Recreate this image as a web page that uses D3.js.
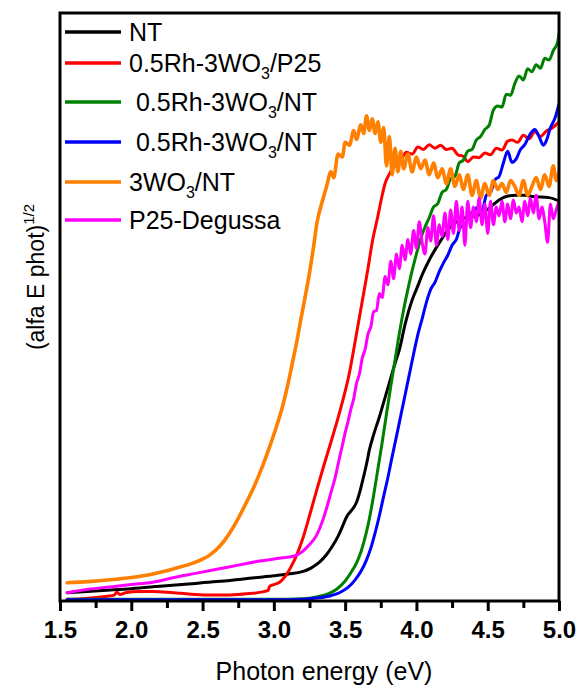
<!DOCTYPE html>
<html>
<head>
<meta charset="utf-8">
<script src="https://cdn.jsdelivr.net/npm/d3@7"></script>
<style>
    body { margin: 0; background: #fff; }
    svg { display: block; font-family: 'Liberation Sans', Arial, sans-serif; }
</style>
</head>
<body>
<div id="chart"></div>
<script>
// x axis ticks (eV)
const xTickValues = [1.5, 2.0, 2.5, 3.0, 3.5, 4.0, 4.5, 5.0];
const xMinorTickValues = [1.75, 2.25, 2.75, 3.25, 3.75, 4.25, 4.75];

// legend labels, split as [text, subscript, text]
const seriesNames = [
    ['NT'],
    ['0.5Rh-3WO', '3', '/P25'],
    [' 0.5Rh-3WO', '3', '/NT'],
    [' 0.5Rh-3WO', '3', '/NT'],
    ['3WO', '3', '/NT'],
    ['P25-Degussa']
];

// [photon energy (eV), (alfa E phot)^1/2 in arbitrary units]
const ntData = [
    [1.55, 1.4], [1.8, 1.8], [2.0, 2.1], [2.2, 2.5], [2.4, 2.9], [2.6, 3.3], [2.8, 3.8], [3.0, 4.3],
    [3.1, 4.6], [3.2, 5.0], [3.26, 5.6], [3.32, 6.6], [3.37, 7.9], [3.41, 9.3], [3.45, 11.0], [3.48, 12.6],
    [3.51, 14.3], [3.53, 15.0], [3.56, 15.9], [3.58, 16.8], [3.60, 18.3], [3.62, 20.2], [3.65, 23.3],
    [3.67, 25.7], [3.70, 28.3], [3.74, 31.3], [3.78, 34.6], [3.81, 37.1], [3.85, 40.4], [3.88, 42.7],
    [3.92, 47.0], [3.97, 51.2], [4.00, 53.0], [4.05, 56.0], [4.09, 58.0], [4.16, 60.9], [4.23, 63.4],
    [4.30, 64.8], [4.36, 65.3], [4.42, 65.5], [4.51, 66.8], [4.58, 68.2], [4.63, 68.8], [4.70, 69.0],
    [4.76, 69.0], [4.81, 68.8], [4.93, 68.6], [5.00, 68.0]
];

const rhP25Data = [
    [1.55, 0.3], [1.65, 0.4], [1.75, 0.6], [1.83, 0.8], [1.88, 1.0], [1.90, 1.5], [1.92, 1.1], [1.96, 1.4],
    [2.05, 1.6], [2.15, 1.6], [2.25, 1.5], [2.35, 1.3], [2.45, 1.1], [2.55, 1.0], [2.65, 1.0], [2.75, 1.1],
    [2.85, 1.3], [2.93, 1.6], [2.96, 1.8], [2.97, 2.5], [3.00, 2.8], [3.04, 3.2], [3.08, 4.2], [3.12, 5.8],
    [3.16, 7.8], [3.20, 10.4], [3.25, 14.5], [3.30, 18.8], [3.35, 23.0], [3.40, 27.0], [3.46, 32.0],
    [3.53, 38.8], [3.58, 45.5], [3.62, 51.0], [3.66, 56.5], [3.69, 61.0], [3.73, 65.5], [3.76, 69.0],
    [3.78, 71.0], [3.81, 72.6], [3.85, 74.2], [3.89, 75.0], [3.93, 76.3], [3.97, 76.0], [4.01, 77.2],
    [4.05, 76.8], [4.09, 77.6], [4.13, 77.0], [4.17, 77.5], [4.21, 76.8], [4.25, 77.0], [4.29, 75.9],
    [4.33, 75.6], [4.36, 74.7], [4.40, 75.5], [4.44, 75.4], [4.48, 76.2], [4.52, 75.9], [4.56, 77.0],
    [4.60, 76.7], [4.64, 78.2], [4.67, 78.4], [4.71, 78.0], [4.75, 79.2], [4.79, 78.6], [4.83, 79.8],
    [4.87, 79.0], [4.91, 79.9], [4.95, 80.4], [5.00, 81.5]
];

const rhNtData = [
    [1.55, 0.3], [2.0, 0.3], [2.5, 0.3], [3.0, 0.3], [3.2, 0.4], [3.3, 0.7], [3.38, 1.2], [3.44, 2.0],
    [3.50, 3.4], [3.54, 4.8], [3.58, 6.5], [3.61, 8.3], [3.64, 10.8], [3.67, 14.0], [3.70, 18.0],
    [3.73, 22.5], [3.76, 27.0], [3.79, 31.8], [3.82, 36.5], [3.85, 41.0], [3.88, 45.5], [3.91, 49.5],
    [3.94, 53.0], [3.97, 56.2], [4.00, 59.0], [4.03, 61.6], [4.06, 63.6], [4.09, 65.2], [4.12, 67.0],
    [4.15, 67.6], [4.18, 69.5], [4.21, 70.0], [4.24, 71.8], [4.27, 72.2], [4.30, 74.5], [4.33, 75.0],
    [4.36, 76.5], [4.39, 76.8], [4.42, 78.4], [4.45, 79.0], [4.48, 80.2], [4.51, 80.9], [4.54, 83.5],
    [4.57, 84.2], [4.60, 84.0], [4.63, 86.2], [4.66, 86.0], [4.69, 88.0], [4.72, 89.3], [4.75, 88.6],
    [4.78, 90.5], [4.81, 90.0], [4.84, 91.2], [4.87, 90.6], [4.90, 92.3], [4.93, 92.0], [4.96, 93.6],
    [4.99, 95.0], [5.00, 96.5]
];

const rhNt2Data = [
    [1.55, 0.2], [2.0, 0.2], [2.5, 0.2], [3.0, 0.2], [3.2, 0.3], [3.3, 0.5], [3.4, 0.9], [3.46, 1.4],
    [3.52, 2.3], [3.57, 3.6], [3.61, 5.0], [3.65, 7.0], [3.68, 9.0], [3.71, 11.6], [3.74, 14.5],
    [3.77, 17.8], [3.80, 21.0], [3.83, 24.6], [3.86, 28.0], [3.89, 31.5], [3.92, 35.0], [3.95, 38.5],
    [3.98, 42.0], [4.01, 45.3], [4.04, 48.0], [4.07, 50.8], [4.10, 53.0], [4.13, 54.2], [4.16, 56.0],
    [4.19, 57.5], [4.22, 58.8], [4.25, 60.5], [4.28, 61.5], [4.31, 63.6], [4.34, 64.0], [4.37, 65.8],
    [4.40, 66.2], [4.43, 67.0], [4.46, 66.4], [4.49, 69.0], [4.52, 69.5], [4.55, 71.6], [4.58, 72.2],
    [4.61, 74.5], [4.64, 76.5], [4.67, 74.6], [4.70, 75.2], [4.73, 76.8], [4.76, 77.6], [4.80, 79.5],
    [4.83, 80.2], [4.86, 79.0], [4.89, 77.5], [4.91, 78.2], [4.94, 80.5], [4.97, 82.0], [5.00, 84.5]
];

const wo3NtData = [
    [1.55, 3.1], [1.7, 3.3], [1.85, 3.6], [2.0, 4.0], [2.15, 4.6], [2.3, 5.5], [2.45, 6.6], [2.55, 7.8],
    [2.62, 9.3], [2.68, 11.2], [2.74, 13.6], [2.80, 16.4], [2.86, 19.4], [2.92, 22.9], [2.97, 26.2],
    [3.02, 29.8], [3.06, 33.0], [3.10, 37.0], [3.13, 40.5], [3.16, 44.0], [3.19, 48.0], [3.22, 51.8],
    [3.25, 55.8], [3.28, 60.5], [3.30, 64.0], [3.34, 68.0], [3.37, 70.5], [3.40, 73.0],
    [3.42, 72.0], [3.45, 76.0], [3.48, 75.5], [3.50, 78.0], [3.53, 77.5], [3.56, 80.0], [3.58, 78.5],
    [3.61, 81.0], [3.63, 79.5], [3.65, 82.5], [3.67, 80.0], [3.69, 82.0], [3.71, 79.5], [3.73, 81.5],
    [3.75, 78.0], [3.77, 80.5], [3.79, 74.0], [3.81, 79.0], [3.83, 72.5], [3.85, 77.0], [3.87, 73.0],
    [3.89, 76.5], [3.91, 73.5], [3.94, 76.0], [3.97, 73.0], [4.00, 75.5], [4.03, 73.5], [4.06, 75.0],
    [4.09, 72.5], [4.12, 74.5], [4.15, 72.0], [4.18, 73.5], [4.21, 71.0], [4.24, 73.5], [4.27, 70.5],
    [4.30, 72.5], [4.33, 70.0], [4.36, 72.5], [4.39, 69.0], [4.42, 71.5], [4.45, 68.5], [4.48, 71.0],
    [4.51, 69.0], [4.54, 71.5], [4.57, 70.0], [4.60, 71.0], [4.63, 69.5], [4.66, 71.5], [4.69, 70.5],
    [4.72, 69.0], [4.75, 71.5], [4.78, 69.0], [4.81, 70.5], [4.84, 72.0], [4.87, 70.0], [4.90, 72.5],
    [4.93, 70.5], [4.96, 74.0], [4.98, 71.5], [5.00, 73.0]
];

const p25Data = [
    [1.55, 1.4], [1.7, 2.0], [1.85, 2.4], [2.0, 2.8], [2.15, 3.2], [2.3, 4.0], [2.45, 4.7], [2.6, 5.4],
    [2.75, 6.1], [2.9, 6.8], [3.05, 7.3], [3.15, 7.7], [3.20, 8.4], [3.25, 9.6], [3.30, 11.2], [3.34, 13.5],
    [3.37, 15.8], [3.40, 18.4], [3.43, 21.0], [3.46, 24.3], [3.48, 26.4], [3.50, 28.6], [3.52, 30.5],
    [3.54, 32.6], [3.56, 34.4], [3.58, 37.0], [3.60, 38.6], [3.62, 41.3], [3.64, 42.8], [3.66, 45.4],
    [3.68, 46.6], [3.70, 49.2], [3.72, 49.4], [3.74, 52.3], [3.76, 51.6], [3.78, 55.2], [3.80, 53.8],
    [3.82, 57.8], [3.84, 54.8], [3.86, 59.0], [3.88, 56.5], [3.90, 60.5], [3.92, 58.0], [3.94, 61.5],
    [3.96, 59.0], [3.98, 63.0], [4.00, 60.0], [4.02, 64.5], [4.04, 61.0], [4.06, 59.0], [4.08, 63.5],
    [4.10, 61.2], [4.12, 65.5], [4.14, 60.5], [4.16, 64.0], [4.18, 62.0], [4.20, 66.0], [4.22, 61.5],
    [4.24, 66.5], [4.26, 62.5], [4.28, 68.0], [4.30, 63.0], [4.32, 67.0], [4.34, 60.5], [4.36, 68.0],
    [4.38, 63.5], [4.40, 67.0], [4.42, 64.5], [4.44, 68.5], [4.46, 64.0], [4.48, 67.5], [4.50, 62.5],
    [4.52, 68.0], [4.54, 64.0], [4.56, 67.0], [4.58, 65.5], [4.60, 68.0], [4.62, 64.5], [4.64, 67.5],
    [4.66, 65.0], [4.68, 68.2], [4.70, 66.0], [4.72, 67.0], [4.74, 64.5], [4.76, 68.0], [4.78, 65.5],
    [4.80, 68.5], [4.82, 66.0], [4.84, 69.0], [4.86, 65.0], [4.88, 67.0], [4.90, 64.5], [4.92, 61.0],
    [4.94, 67.5], [4.96, 65.0], [4.98, 66.5], [5.00, 68.0]
];

const seriesData = [ntData, rhP25Data, rhNtData, rhNt2Data, wo3NtData, p25Data];
const seriesColors = ['#000000', '#ff0000', '#008000', '#0000ff', '#ff8000', '#ff00ff'];

class BandGapChart {
    constructor(_config) {
        this.config = {
            parentElement: _config.parentElement,
            containerWidth: _config.containerWidth || 582,
            containerHeight: _config.containerHeight || 689,
            margin: _config.margin || { top: 13, right: 23, bottom: 88, left: 60 }
        };
        this.initVis();
    }

    initVis() {
        let vis = this;

        vis.width = vis.config.containerWidth - vis.config.margin.left - vis.config.margin.right;
        vis.height = vis.config.containerHeight - vis.config.margin.top - vis.config.margin.bottom;

        vis.svg = d3.select(vis.config.parentElement)
            .append('svg')
            .attr('width', vis.config.containerWidth)
            .attr('height', vis.config.containerHeight);

        vis.chart = vis.svg.append('g')
            .attr('transform', `translate(${vis.config.margin.left},${vis.config.margin.top})`);

        vis.svg.append('defs').append('clipPath')
            .attr('id', 'plot-clip')
            .append('rect')
            .attr('width', vis.width)
            .attr('height', vis.height);

        vis.xScale = d3.scaleLinear()
            .domain([1.5, 5.0])
            .range([0, vis.width]);

        vis.yScale = d3.scaleLinear()
            .domain([0, 100])
            .range([vis.height, 0]);

        vis.colorScale = d3.scaleOrdinal()
            .domain(d3.range(seriesData.length))
            .range(seriesColors);

        vis.line = d3.line()
            .x(d => vis.xScale(d[0]))
            .y(d => vis.yScale(d[1]))
            .curve(d3.curveMonotoneX);

        vis.renderVis();
    }

    renderVis() {
        let vis = this;

        // curves
        vis.chart.append('g')
            .attr('clip-path', 'url(#plot-clip)')
            .selectAll('.curve')
            .data(seriesData)
            .join('path')
            .attr('class', 'curve')
            .attr('d', d => vis.line(d))
            .attr('fill', 'none')
            .attr('stroke', (d, i) => vis.colorScale(i))
            .attr('stroke-width', (d, i) => i === 4 ? 3.6 : 3)
            .attr('stroke-linejoin', 'round')
            .attr('stroke-linecap', 'round');

        // minor ticks
        vis.chart.append('g')
            .attr('transform', `translate(0,${vis.height})`)
            .call(d3.axisBottom(vis.xScale)
                .tickValues(xMinorTickValues)
                .tickSize(7)
                .tickSizeOuter(0)
                .tickFormat(''))
            .call(g => g.select('.domain').remove())
            .selectAll('line')
            .attr('stroke', '#000')
            .attr('stroke-width', 3);

        // major ticks + labels
        const xAxis = vis.chart.append('g')
            .attr('transform', `translate(0,${vis.height})`)
            .call(d3.axisBottom(vis.xScale)
                .tickValues(xTickValues)
                .tickSize(10)
                .tickSizeOuter(0)
                .tickFormat(d3.format('.1f')));

        xAxis.select('.domain').remove();
        xAxis.selectAll('line')
            .attr('stroke', '#000')
            .attr('stroke-width', 3);
        xAxis.selectAll('text')
            .attr('y', 37)
            .attr('dy', 0)
            .attr('fill', '#000')
            .style('font-family', "'Liberation Sans', Arial, sans-serif")
            .style('font-size', '24px')
            .style('font-weight', 'bold');

        // frame
        vis.chart.append('rect')
            .attr('width', vis.width)
            .attr('height', vis.height)
            .attr('fill', 'none')
            .attr('stroke', '#000')
            .attr('stroke-width', 3);

        // Label for x-axis
        vis.svg.append('text')
            .attr('x', 324)
            .attr('y', 680)
            .attr('text-anchor', 'middle')
            .style('font-size', '25px')
            .text('Photon energy (eV)');

        // Label for y-axis
        const yLabel = vis.svg.append('text')
            .attr('transform', 'translate(44,277) rotate(-90)')
            .attr('text-anchor', 'middle')
            .style('font-size', '23px');
        yLabel.append('tspan').text('(alfa E phot)');
        yLabel.append('tspan')
            .attr('dy', -10)
            .style('font-size', '15px')
            .text('1/2');

        // legend
        const legendRowY = [32, 63, 102, 142, 182, 220];
        const legend = vis.svg.append('g');

        legend.selectAll('.legend-line')
            .data(seriesNames)
            .join('line')
            .attr('class', 'legend-line')
            .attr('x1', 65)
            .attr('x2', 121)
            .attr('y1', (d, i) => legendRowY[i])
            .attr('y2', (d, i) => legendRowY[i])
            .attr('stroke', (d, i) => vis.colorScale(i))
            .attr('stroke-width', 3.5);

        legend.selectAll('.legend-label')
            .data(seriesNames)
            .join('text')
            .attr('class', 'legend-label')
            .attr('x', 129)
            .attr('y', (d, i) => legendRowY[i] + 9)
            .style('font-size', '25px')
            .style('white-space', 'pre')
            .each(function(parts) {
                const t = d3.select(this);
                t.append('tspan').text(parts[0]);
                if (parts.length > 1) {
                    t.append('tspan')
                        .attr('dy', 7)
                        .style('font-size', '16px')
                        .text(parts[1]);
                    t.append('tspan')
                        .attr('dy', -7)
                        .text(parts[2]);
                }
            });
    }
}

new BandGapChart({ parentElement: '#chart' });
</script>
</body>
</html>
